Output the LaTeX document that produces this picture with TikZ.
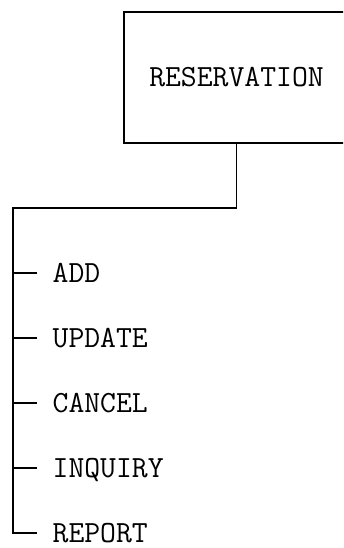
\documentclass[tikz,border=0pt]{standalone}
\usetikzlibrary{positioning}

\begin{document}
\begin{tikzpicture}[x=1pt, y=-1pt, line width=1.3pt,
        every node/.style={font=\ttfamily\fontsize{30.8}{30.8}\selectfont},
        module/.style={draw, minimum width=225pt, minimum height=131pt, inner sep=0pt},
        item/.style={anchor=west, inner xsep=8pt, inner ysep=0pt,
            text height=18.8pt, text depth=0pt},
        tick/.style={shorten >=7pt}]

        \useasboundingbox (0,0) rectangle (343,548);
        \clip (0,0) rectangle (343,548);

        % --- Module ---
        \node[module] (res) at (236.5,77.5) {RESERVATION};
        \coordinate (top) at (13,208);

        % --- Functions ---
        \node[item]                          (add)     at (44,273) {ADD};
        \node[below=65pt of add.west, item]     (update)  {UPDATE};
        \node[below=65pt of update.west, item]  (cancel)  {CANCEL};
        \node[below=65pt of cancel.west, item]  (inquiry) {INQUIRY};
        \node[below=65pt of inquiry.west, item] (report)  {REPORT};

        % --- Connectors ---
        \draw[tick] (res.south) |- (top) |- (report.west);
        \draw[tick] (top |- add.west) -- (add.west);
        \draw[tick] (top |- update.west) -- (update.west);
        \draw[tick] (top |- cancel.west) -- (cancel.west);
        \draw[tick] (top |- inquiry.west) -- (inquiry.west);

    \end{tikzpicture}
\end{document}
